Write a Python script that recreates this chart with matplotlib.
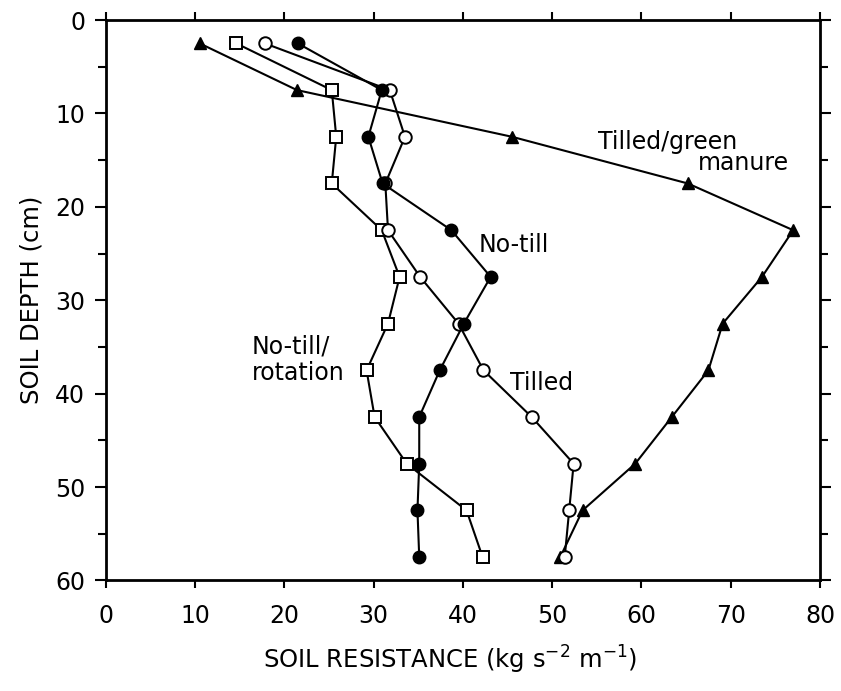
import matplotlib
matplotlib.use("Agg")
import matplotlib.pyplot as plt
from matplotlib.ticker import MultipleLocator

depth = [2.5, 7.5, 12.5, 17.5, 22.5, 27.5, 32.5, 37.5, 42.5, 47.5, 52.5, 57.5]
green_manure = [10.5, 21.4, 45.5, 65.2, 77.0, 73.5, 69.1, 67.5, 63.4, 59.3, 53.4, 50.9]
no_till = [21.5, 30.9, 29.4, 31.0, 38.7, 43.1, 40.1, 37.4, 35.1, 35.1, 34.9, 35.1]
tilled = [17.8, 31.8, 33.5, 31.3, 31.6, 35.2, 39.5, 42.3, 47.7, 52.4, 51.9, 51.4]
rotation = [14.6, 25.3, 25.8, 25.3, 30.9, 32.9, 31.6, 29.2, 30.1, 33.7, 40.4, 42.2]

plt.rcParams['font.family'] = ['DejaVu Sans']
fig = plt.figure(figsize=(8.41, 6.91), dpi=100)
ax = fig.add_axes([0.126, 0.160, 0.849, 0.811])

kw = dict(color='black', lw=1.5)
ax.plot(green_manure, depth, marker='^', ms=9, mfc='black', mec='black', **kw)
ax.plot(rotation, depth, marker='s', ms=8.5, mfc='white', mec='black', mew=1.4, **kw)
ax.plot(tilled, depth, marker='o', ms=9, mfc='white', mec='black', mew=1.4, **kw)
ax.plot(no_till, depth, marker='o', ms=9, mfc='black', mec='black', **kw)

ax.set_xlim(0, 80)
ax.set_ylim(60, 0)
ax.xaxis.set_major_locator(MultipleLocator(10))
ax.yaxis.set_major_locator(MultipleLocator(10))
ax.yaxis.set_minor_locator(MultipleLocator(5))
ax.tick_params(axis='both', which='major', direction='out', length=8, width=1.5,
               top=True, right=True, labelsize=17)
ax.tick_params(axis='y', which='minor', direction='out', length=6, width=1.5,
               left=True, right=True)
ax.tick_params(axis='x', which='major', length=6, pad=11)
ax.tick_params(axis='y', which='major', pad=7)
for s in ax.spines.values():
    s.set_linewidth(2)

ax.set_xlabel('SOIL RESISTANCE (kg s$^{-2}$ m$^{-1}$)', fontsize=17.5, labelpad=14)
ax.xaxis.set_label_coords(0.482, -0.113)
ax.set_ylabel('SOIL DEPTH (cm)', fontsize=17.5, labelpad=8)

tf = dict(fontsize=17, color='black')
ax.text(55.1, 13.1, 'Tilled/green', ha='left', va='center', **tf)
ax.text(76.5, 15.3, 'manure', ha='right', va='center', **tf)
ax.text(41.7, 24.1, 'No-till', ha='left', va='center', **tf)
ax.text(45.3, 38.9, 'Tilled', ha='left', va='center', **tf)
ax.text(16.3, 34.9, 'No-till/', ha='left', va='center', **tf)
ax.text(16.3, 37.8, 'rotation', ha='left', va='center', **tf)

fig.savefig('out.png', dpi=100)
